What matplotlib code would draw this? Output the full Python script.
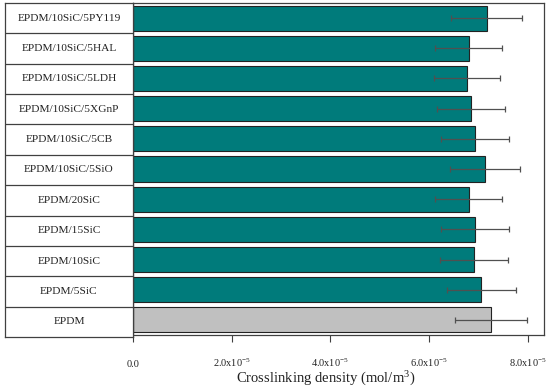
import matplotlib
matplotlib.use("Agg")
import matplotlib.pyplot as plt
import numpy as np

categories = ["EPDM", "EPDM/5SiC", "EPDM/10SiC", "EPDM/15SiC", "EPDM/20SiC",
              "EPDM/10SiC/5SiO", "EPDM/10SiC/5CB", "EPDM/10SiC/5XGnP",
              "EPDM/10SiC/5LDH", "EPDM/10SiC/5HAL", "EPDM/10SiC/5PY119"]
values = [7.26e-5, 7.06e-5, 6.91e-5, 6.93e-5, 6.80e-5, 7.13e-5, 6.93e-5,
          6.85e-5, 6.77e-5, 6.80e-5, 7.17e-5]
errors = [0.73e-5, 0.70e-5, 0.69e-5, 0.69e-5, 0.68e-5, 0.71e-5, 0.69e-5,
          0.68e-5, 0.67e-5, 0.68e-5, 0.72e-5]
xticks = [0.0, 2.0e-5, 4.0e-5, 6.0e-5, 8.0e-5]
xticklabels = ["0.0", r"2.0x10$^{\mathregular{-5}}$", r"4.0x10$^{\mathregular{-5}}$",
               r"6.0x10$^{\mathregular{-5}}$", r"8.0x10$^{\mathregular{-5}}$"]
xlabel = r"Crosslinking density (mol/m$^{\mathregular{3}}$)"

plt.rcParams['font.family'] = ['Liberation Serif', 'DejaVu Serif']
plt.rcParams['mathtext.fontset'] = 'stix'

W, H = 550, 388
fig = plt.figure(figsize=(W / 100, H / 100), dpi=100)

edge = '#404040'
ax = fig.add_axes([133 / W, 1 - 335 / H, (544 - 133) / W, (335 - 3) / H])
axl = fig.add_axes([5 / W, 1 - 337 / H, (133 - 5) / W, (337 - 3) / H])

y = np.arange(len(categories))
colors = ['#C0C0C0'] + ['#007B7B'] * (len(categories) - 1)
ax.barh(y, values, height=0.83, color=colors, edgecolor='#222222', linewidth=0.8,
        xerr=errors, error_kw=dict(ecolor='#505050', elinewidth=0.9, capsize=2.2, capthick=0.9))
ax.set_ylim(-0.5, len(categories) - 0.5)
ax.set_xlim(0, 8.33e-5)
ax.set_yticks([])
ax.set_xticks(xticks)
ax.set_xticklabels(xticklabels, fontsize=7.4, color='#222222')
for lbl in ax.get_xticklabels():
    lbl.set_verticalalignment('baseline')
ax.tick_params(axis='x', direction='out', length=5, width=0.8, color=edge, pad=18)
ax.set_xlabel(xlabel, fontsize=10.5, color='#222222')
ax.xaxis.set_label_coords(0.47, -0.100)
for s in ax.spines.values():
    s.set_color(edge)
    s.set_linewidth(0.9)

axl.set_ylim(-0.5, len(categories) - 0.5)
axl.set_xlim(0, 1)
axl.set_xticks([])
axl.set_yticks([])
for i, c in enumerate(categories):
    axl.text(0.5, i, c, ha='center', va='center', fontsize=8.2, color='#222222')
    if i < len(categories) - 1:
        axl.axhline(i + 0.5, color=edge, linewidth=0.9)
for s in axl.spines.values():
    s.set_color(edge)
    s.set_linewidth(0.9)

fig.savefig("out.png", dpi=100)
